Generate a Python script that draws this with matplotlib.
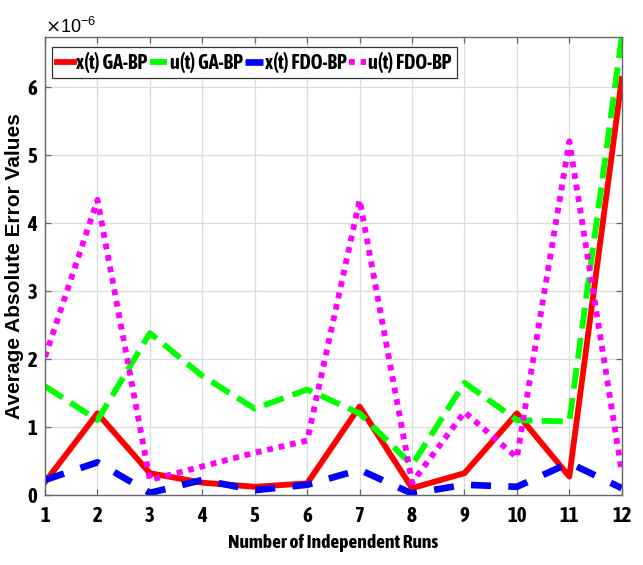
import matplotlib
matplotlib.use("Agg")
import matplotlib.pyplot as plt
from matplotlib.ticker import ScalarFormatter, FixedLocator

runs = list(range(1, 13))
x_ga = [0.19, 1.20, 0.32, 0.18, 0.12, 0.17, 1.30, 0.10, 0.32, 1.20, 0.27, 6.12]
u_ga = [1.60, 1.10, 2.38, 1.75, 1.27, 1.55, 1.20, 0.44, 1.65, 1.10, 1.08, 6.74]
x_fdo = [0.22, 0.48, 0.03, 0.22, 0.07, 0.15, 0.37, 0.02, 0.15, 0.12, 0.47, 0.10]
u_fdo = [2.03, 4.34, 0.22, 0.42, 0.62, 0.80, 4.34, 0.18, 1.22, 0.55, 5.20, 0.34]
scale = 1e-6
labels = ["x(t) GA-BP", "u(t) GA-BP", "x(t) FDO-BP", "u(t) FDO-BP"]
xlabel = "Number of Independent Runs"
ylabel = "Average Absolute Error Values"

narrow = ["Asap Condensed", "Archivo Narrow", "DejaVu Sans"]
wide = ["Arimo", "Liberation Sans", "DejaVu Sans"]
plt.rcParams["font.family"] = narrow
plt.rcParams["mathtext.fontset"] = "custom"
plt.rcParams["mathtext.rm"] = "Arimo"

fig = plt.figure(figsize=(6.43, 5.65), dpi=100)
ax = fig.add_axes([0.070, 0.124, 0.897, 0.811])

lw = 4.2
ax.plot(runs, [v * scale for v in x_ga], color="#ff0000", lw=lw, ls="-", label=labels[0])
ax.plot(runs, [v * scale for v in u_ga], color="#00ff00", lw=lw, ls=(0, (3.6, 1.6)), label=labels[1])
ax.plot(runs, [v * scale for v in x_fdo], color="#0000ff", lw=lw + 0.6, ls=(0, (3.0, 2.6)), label=labels[2])
ax.plot(runs, [v * scale for v in u_fdo], color="#ff00ff", lw=lw, ls=(0, (1.0, 1.0)), label=labels[3])

ax.set_xlim(1, 12)
ax.set_ylim(0, max(u_ga) * scale)
ax.xaxis.set_major_locator(FixedLocator(runs))
ax.set_yticks([i * scale for i in range(0, 7)])
fmt = ScalarFormatter(useMathText=True)
fmt.set_powerlimits((0, 0))
ax.yaxis.set_major_formatter(fmt)
off = ax.yaxis.get_offset_text()
off.set_fontsize(13)
off.set_family(wide)

ax.grid(True, color="#dcdcdc", lw=0.9)
ax.set_axisbelow(True)
ax.tick_params(direction="in", length=4, width=0.9, color="#666666", top=True, right=True,
               labelsize=15)
ax.tick_params(axis="x", pad=8)
ax.tick_params(axis="y", pad=5)
for lab in ax.get_xticklabels() + ax.get_yticklabels():
    lab.set_fontweight("bold")
for s in ax.spines.values():
    s.set_color("#666666")
    s.set_linewidth(1.0)

ax.set_xlabel(xlabel, fontsize=14, fontweight="bold", labelpad=6)
ax.set_ylabel(ylabel, fontsize=15, fontweight="bold", family=wide, labelpad=2)

leg = ax.legend(loc="upper left", bbox_to_anchor=(0.012, 0.977), ncol=4,
                prop={"weight": "bold", "size": 14.5, "family": narrow},
                handlelength=0.85, handletextpad=0.1,
                columnspacing=0.15, borderpad=0.25, borderaxespad=0, fancybox=False,
                frameon=True)
leg.get_frame().set_edgecolor("#333333")
leg.get_frame().set_linewidth(0.9)
leg.get_frame().set_alpha(1)

fig.savefig("out.png", dpi=100)
